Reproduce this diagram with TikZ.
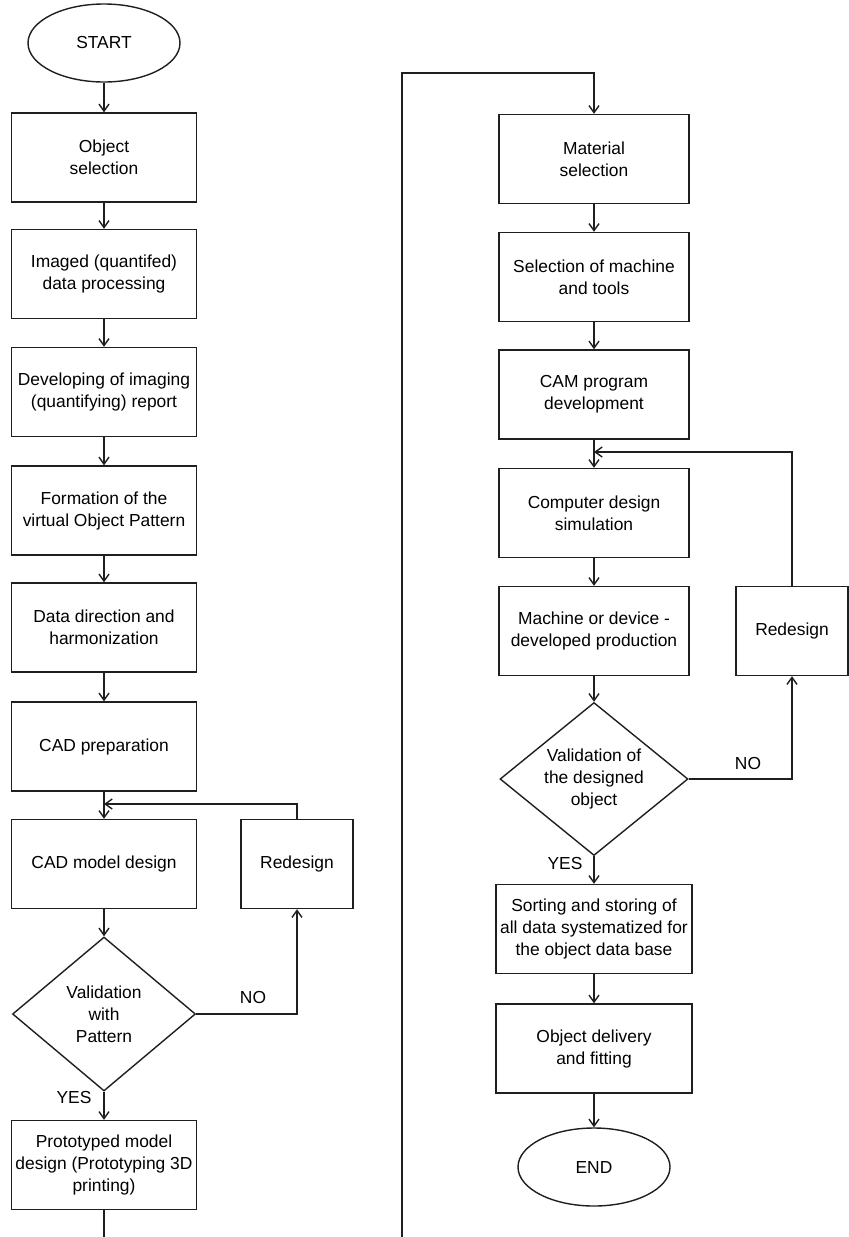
\documentclass[tikz,border=0pt]{standalone}
\usepackage{fontspec}
\setmainfont{Liberation Sans}
\usetikzlibrary{shapes.geometric,arrows.meta}
\definecolor{inkline}{gray}{0.12}
\tikzset{
  proc/.style={draw=inkline,line width=0.7pt,rectangle,align=center,inner sep=1pt,minimum width=92.5pt,minimum height=44.5pt,font=\fontsize{8.7}{11}\selectfont},
  procw/.style={proc,minimum width=95pt},
  redo/.style={proc,minimum width=56pt},
  terminal/.style={draw=inkline,line width=0.7pt,ellipse,inner sep=0pt,minimum width=76pt,minimum height=39pt,font=\fontsize{8.7}{11}\selectfont},
  decide/.style={draw=inkline,line width=0.7pt,diamond,aspect=1.2,inner sep=0pt,align=center,font=\fontsize{8.7}{11}\selectfont},
  lab/.style={font=\fontsize{8.7}{11}\selectfont},
  flow/.style={draw=inkline,line width=0.7pt,-{Straight Barb[length=3.5pt,width=5pt]}},
  wire/.style={draw=inkline,line width=0.7pt},
}
\begin{document}
\begin{tikzpicture}[x=0.5pt,y=-0.5pt]
  \useasboundingbox (0,0) rectangle (849,1237);
  \node[terminal] (start) at (104,43) {START};
  \node[proc] (objsel) at (104,157.5) {Object\\selection};
  \node[proc] (imaged) at (104,274) {Imaged (quantifed)\\data processing};
  \node[proc] (develop) at (104,392) {Developing of imaging\\(quantifying) report};
  \node[proc] (formation) at (104,510.5) {Formation of the\\virtual Object Pattern};
  \node[proc] (datadir) at (104,627.5) {Data direction and\\harmonization};
  \node[proc] (cadprep) at (104,746.5) {CAD preparation};
  \node[proc] (cadmodel) at (104,864) {CAD model design};
  \node[redo] (redesignL) at (297,864) {Redesign};
  \node[decide,minimum width=91.5pt,minimum height=77pt] (validL) at (104,1014) {Validation\\with\\Pattern};
  \node[proc] (proto) at (104,1165) {Prototyped model\\design (Prototyping 3D\\printing)};
  \node[lab] (noL) at (253,997) {NO};
  \node[lab] (yesL) at (74,1097) {YES};
  \coordinate (joinL) at (104,804);
  \coordinate (botL) at (104,1237);
  \coordinate (botR) at (402,1237);
  \coordinate (topR) at (402,73);
  \node[procw] (material) at (594,159) {Material\\selection};
  \node[procw] (selmach) at (594,277) {Selection of machine\\and tools};
  \node[procw] (cam) at (594,394.5) {CAM program\\development};
  \node[procw] (compsim) at (594,513) {Computer design\\simulation};
  \node[procw] (machdev) at (594,631) {Machine or device -\\developed production};
  \node[redo] (redesignR) at (792,631) {Redesign};
  \node[decide,minimum width=94pt,minimum height=76.5pt] (validR) at (594,779) {Validation of\\the designed\\object};
  \node[lab] (noR) at (748,763) {NO};
  \node[lab] (yesR) at (565,863) {YES};
  \node[procw,minimum width=98pt] (sorting) at (594,929) {Sorting and storing of\\all data systematized for\\the object data base};
  \node[procw,minimum width=98pt] (delivery) at (594,1048.5) {Object delivery\\and fitting};
  \node[terminal] (end) at (594,1167) {END};
  \coordinate (joinR) at (594,452);
  \draw[flow] (start) -- (objsel);
  \draw[flow] (objsel) -- (imaged);
  \draw[flow] (imaged) -- (develop);
  \draw[flow] (develop) -- (formation);
  \draw[flow] (formation) -- (datadir);
  \draw[flow] (datadir) -- (cadprep);
  \draw[flow] (cadprep) -- (cadmodel);
  \draw[flow] (cadmodel) -- (validL);
  \draw[flow] (validL) -- (proto);
  \draw[flow] (validL.east) -| (redesignL.south);
  \draw[flow] (redesignL.north) |- (joinL);
  \draw[wire] (proto) -- (botL);
  \draw[flow] (botR) -- (topR) -| (material.north);
  \draw[flow] (material) -- (selmach);
  \draw[flow] (selmach) -- (cam);
  \draw[flow] (cam) -- (compsim);
  \draw[flow] (compsim) -- (machdev);
  \draw[flow] (machdev) -- (validR);
  \draw[flow] (validR.east) -| (redesignR.south);
  \draw[flow] (redesignR.north) |- (joinR);
  \draw[flow] (validR) -- (sorting);
  \draw[flow] (sorting) -- (delivery);
  \draw[flow] (delivery) -- (end);
\end{tikzpicture}
\end{document}
